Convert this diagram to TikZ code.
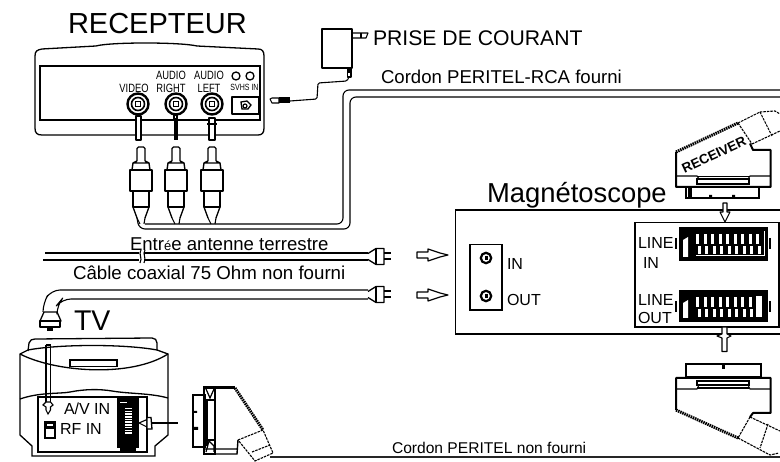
\documentclass[tikz,border=0pt]{standalone}
\usepackage{fontspec}
\setmainfont{Liberation Sans}
\newcommand{\fs}[1]{\fontsize{#1}{#1}\selectfont}
\newcommand{\rcaplug}[1]{%
  \draw[ln,line width=1.3pt,rounded corners=1.5pt] (#1-4,161) -- (#1-4,147) -- (#1+4,147) -- (#1+4,161);
  \draw[ln,line width=1.4pt] (#1-4,161) -- (#1-8,163) -- (#1-9,170) (#1+4,161) -- (#1+8,163) -- (#1+9,170) (#1-8,163) -- (#1+8,163);
  \draw[ln,line width=1.6pt,fill=white] (#1-11,170) rectangle (#1+11,191);
  \draw[ln,line width=1.4pt] (#1-8,191) -- (#1-8,207) -- (#1+8,207) -- (#1+8,191);
  \draw[ln,line width=1.3pt] (#1-8,207) -- (#1-4,218) (#1+8,207) -- (#1+4,218);
  \draw[ln] (#1-4,218) -- (#1-1,224) (#1+4,218) -- (#1+3,224);
}
\newcommand{\fplug}[1]{%
  \draw[ln,line width=1.3pt] (368,#1-3) -- (376,#1-8) -- (384,#1-8) -- (384,#1+8) -- (376,#1+8) -- (368,#1+3);
  \draw[ln,line width=1.3pt] (376,#1-8) -- (376,#1+8);
  \draw[ln,line width=2pt] (384,#1-3) -- (391,#1-3) (384,#1+3) -- (391,#1+3);
}
\newcommand{\harrow}[1]{%
  \draw[ln,line width=1.2pt,fill=white] (417,#1-3) -- (428,#1-3) -- (428,#1-6) -- (440,#1-2) -- (448,#1) -- (440,#1+2) -- (428,#1+6) -- (428,#1+3) -- (417,#1+3) -- cycle;
}
\newcommand{\scartsock}[3]{%
  \fill[black] (679,#1) rectangle (768,#2);
  \draw[black,line width=1.5pt] (676,#1+11) -- (676,#1+22) (770,#1+11) -- (770,#1+22);
  \fill[white] (683,#1+13) -- (688,#1+10) -- (688,#2-4) -- (683,#2-4) -- cycle;
  \foreach \q in {696,703.5,...,762} {
    \fill[white] (\q,#1+7) rectangle (\q+3.2,#1+17);
    \fill[white] (\q+1.5,#1+19) rectangle (\q+4.6,#1+27);
  }
  #3
}
\tikzset{
  x=1pt,y=-1pt,
  ln/.style={draw=black,line width=1.1pt,line join=round},
  thk/.style={draw=black,line width=1.6pt,line join=round},
  txt/.style={anchor=base west,inner sep=0pt,outer sep=0pt,text=black},
  narrowtxt/.style={anchor=base,inner sep=0pt,outer sep=0pt,text=black,transform shape,xscale=.78},
  hatch/.style={draw=black,line width=3pt,dash pattern=on 1.5pt off .8pt},
  bootln/.style={draw=black,line width=1.1pt,dash pattern=on 2.5pt off 1pt},
}
\begin{document}
\begin{tikzpicture}
\useasboundingbox (0,0) rectangle (780,462);
\fill[white] (0,0) rectangle (780,462);

% ---------- texts
\node[txt,font=\fs{29}] (recepteur) at (68,34) {RECEPTEUR};
\node[txt,font=\fs{21.2}] (prise) at (373,46) {PRISE DE COURANT};
\node[txt,font=\fs{18.6}] (cordonrca) at (381,84) {Cordon PERITEL-RCA fourni};
\node[txt,font=\fs{27.4}] (magneto) at (487,203) {Magnétoscope};
\node[txt,font=\fs{18.6}] (entree) at (130,251) {Entr{\fs{13}é}e antenne terrestre};
\node[txt,font=\fs{18.7}] (cable) at (73,280) {Câble coaxial 75 Ohm non fourni};
\node[txt,font=\fs{28.5}] (tv) at (74,331) {TV};
\node[txt,font=\fs{16}] (avin) at (64,415) {A/V IN};
\node[txt,font=\fs{16}] (rfin) at (60,435) {RF IN};
\node[txt,font=\fs{16}] (vin) at (507,270) {IN};
\node[txt,font=\fs{16}] (vout) at (507,306) {OUT};
\node[txt,font=\fs{16}] (linein) at (638,249) {LINE};
\node[txt,font=\fs{16}] (linein2) at (643,269) {IN};
\node[txt,font=\fs{16}] (lineout) at (638,306) {LINE};
\node[txt,font=\fs{16}] (lineout2) at (638,324) {OUT};
\node[txt,font=\fs{15.6}] (cordon) at (392,453.5) {Cordon PERITEL non fourni};
\node[narrowtxt,font=\fs{12}] (lvid) at (134,93) {VIDEO};
\node[narrowtxt,font=\fs{12}] (lright) at (171,93) {RIGHT};
\node[narrowtxt,font=\fs{12}] (laud1) at (171,80) {AUDIO};
\node[narrowtxt,font=\fs{12}] (lleft) at (209,93) {LEFT};
\node[narrowtxt,font=\fs{12}] (laud2) at (209,80) {AUDIO};
\node[narrowtxt,font=\fs{9}] (lsv) at (244.5,91) {SVHS IN};

% ---------- receiver
\draw[line width=1.3pt,line join=round] (35,56) .. controls (35,51) and (37,50) .. (42,49) -- (96,46) .. controls (110,42) and (180,42) .. (197,46) -- (258,49) .. controls (262,49) and (264,51) .. (264,56) -- (264,128) .. controls (264,133) and (262,135) .. (258,135) -- (42,135) .. controls (37,135) and (35,133) .. (35,128) -- cycle;
\draw[line width=1.3pt] (40,66) rectangle (260,120);
\foreach \cx/\cn in {138/a,176/b,212/c} {
  \draw[line width=2.4pt,fill=white] (\cx,104) circle (10.5);
  \draw[line width=1.6pt] (\cx,104) circle (6.5);
  \draw[line width=1.2pt] (\cx-2.5,101.5) rectangle (\cx+2.5,106.5);
}
\draw[thk] (232,97) rectangle (259,114);
\draw[line width=1.3pt,fill=white] (241,102) -- (247,101) -- (251,105) -- (248,109) -- (242,109) -- cycle;
\draw[line width=1.2pt] (245,106) circle (2);
\draw[line width=1.3pt] (236,76) circle (4) (250,76) circle (4);
% plugs from jacks
\draw[ln,fill=white] (136,116) rectangle (141,140);
\fill[black] (173.5,119) rectangle (177.5,140);
\draw[ln,fill=white] (174,115) rectangle (177,119);
\draw[ln,fill=white] (209,118) rectangle (215,140);
\draw[ln] (207,124) -- (217,124);
% RCA plugs
\rcaplug{141}
\rcaplug{176}
\rcaplug{212}
% RCA cable
\draw[ln,rounded corners=6pt] (137,218) -- (139,229) -- (350,229) -- (350,97) -- (780,97);
\draw[ln,rounded corners=6pt] (145,224) -- (343,224) -- (343,90) -- (780,90);
% power adapter
\draw[ln,line width=1.3pt] (322,29) rectangle (352,68);
\draw[ln] (352,33) -- (368,33) -- (366,38) -- (352,38);
\draw[ln] (361,33) -- (361,38);
\draw[ln,fill=black] (348,68) rectangle (351,72);
\draw[ln] (347.5,72) rectangle (351,77);
\draw[ln,rounded corners=1.5pt] (349,77) -- (347,81) -- (318,83) -- (317,99) -- (290,101);
\draw[ln,fill=white] (270,99) -- (272,98) -- (279,98) -- (279,103) -- (272,103) -- cycle;
\fill[black] (279,97.5) rectangle (290,103.5);

% ---------- VCR
\draw[line width=1.3pt] (780,210) -- (455.5,210) -- (455.5,334) -- (780,334);
\draw[line width=1.3pt] (780,222.5) -- (635,222.5) -- (635,327) -- (779,327) -- (779,222.5);
\draw[line width=1.4pt] (470,244.5) rectangle (502,310);
\foreach \yy in {258,296} {
  \draw[line width=2.2pt] (486,\yy) circle (5.2);
  \fill[black] (485,\yy-2) rectangle (488,\yy+2);
}
\harrow{255}
\harrow{295}
\scartsock{227}{261}{\draw[white,line width=1pt] (696,256) -- (764,256) -- (764,231);}
\scartsock{290}{322}{\fill[white] (756,296) rectangle (762,317);}
\draw[ln,fill=white] (723,203) -- (727,203) -- (727,212) -- (730,212) -- (725,222) -- (720,212) -- (723,212) -- cycle;
\draw[ln,fill=white] (722,327) -- (722,334) -- (717,336) -- (722,338) -- (722,351.5) -- (727,351.5) -- (727,338) -- (731,336) -- (727,334) -- (727,327) -- cycle;

% ---------- top SCART
\draw[line width=2pt,line join=round] (676,152) -- (676,187) -- (770.5,187) -- (770.5,150) -- (753,150) -- (750,143.5);
\draw[line width=1.1pt] (676,176) -- (697,176) -- (699,179) (770,176) -- (750,176) -- (748,179);
\draw[line width=1.1pt] (697,179) rectangle (749,184);
\draw[line width=1.4pt] (697,176.5) -- (749,176.5);
\draw[line width=1.4pt,fill=white] (686,187) rectangle (759,198);
\fill[black] (688,187) rectangle (692,198);
\fill[black] (709,195) rectangle (712,198) (732,195) rectangle (735,198);
\draw[hatch] (676,152) -- (738,123);
\draw[bootln] (738,123) -- (760,112) -- (775,111) -- (780,114) (752,144) -- (780,131) (738,123) -- (752,144) (760,112) -- (772,136);
\node[anchor=center,inner sep=0pt,font=\fs{13.5}\bfseries,rotate=25,text=black] (recv) at (714,155) {RECEIVER};

% ---------- bottom SCART
\draw[line width=1.3pt,fill=white] (686,364) rectangle (761,377);
\fill[black] (722,365) rectangle (725,369);
\draw[line width=2pt,line join=round] (676,410) -- (676,378) -- (770.5,378) -- (770.5,413) -- (753,413) -- (750,417);
\draw[line width=1.1pt] (676,389) -- (697,389) -- (699,385) (770,389) -- (750,389) -- (748,385);
\draw[line width=1.1pt] (697,381) rectangle (749,385);
\draw[line width=1.4pt] (697,388) -- (749,388);
\draw[hatch] (676,410) -- (738,438);
\draw[bootln] (738,438) -- (770,455) -- (779,453) (750,417) -- (780,431) (750,417) -- (738,438) (768,424) -- (760,448);

% ---------- peritel cable and left SCART
\draw[draw=black!85,line width=2pt] (270,457.5) -- (780,457.5);
\draw[line width=1.6pt] (193,395) rectangle (205,447);
\fill[black] (204,399) rectangle (208,446);
\fill[black] (193,411) rectangle (197,413) (193,427) rectangle (198,430);
\draw[line width=1.2pt] (204,387) rectangle (215,454);
\fill[black] (204,386) rectangle (235,389);
\draw[line width=1.2pt] (206,389) -- (210,398) -- (214,389) (206,452) -- (209,441) -- (214,446) -- (214,452);
\draw[line width=1.4pt] (204,449) -- (237,449) (204,454) -- (237,454) -- (238,440);
\draw[line width=1.2pt] (215,400) -- (208,400) (215,440) -- (208,440);
\draw[hatch] (235,388) -- (263,430);
\draw[bootln] (238,440) -- (263,430) -- (273,453) -- (255,461) -- (238,440) (252,452) -- (270,445);

% ---------- antenna cables
\draw[ln] (45,253) -- (139,253) (144,253) -- (368,253);
\draw[ln] (43,260) -- (139,260) (144,260) -- (368,260);
\draw[ln] (141,250) .. controls (138,254) and (143,258) .. (140,263);
\draw[ln] (145,250) .. controls (142,254) and (147,258) .. (144,263);
\fplug{256.5}
\draw[ln,rounded corners=9pt] (368,290) -- (51,290) -- (43,303) -- (43,312);
\draw[ln,rounded corners=9pt] (368,299) -- (62,299) -- (57,305) -- (57,312);
\fplug{294.5}
\draw[ln,line width=1.3pt] (44,312) -- (57,312) -- (61,321) -- (40,321) -- cycle;
\draw[thk] (40,321) rectangle (60,327);
\fill[black] (47,327) rectangle (53,331);

% ---------- TV
\draw[line width=1.3pt,line join=round] (28,351) -- (29,343) .. controls (30,340) and (32,339) .. (35,339) -- (152,338) .. controls (155,338) and (157,340) .. (157,343) -- (157,350);
\draw[line width=1.3pt] (28,350) .. controls (60,344) and (125,344) .. (157,350);
\draw[line width=1.3pt] (28,350) -- (20,354) -- (20,435) -- (32,446) -- (32,456) -- (155,456) -- (155,446) -- (168,435) -- (168,354) -- (157,350);
\draw[line width=1.3pt] (20,354) .. controls (55,372) and (130,378) .. (168,354);
\draw[line width=1.4pt] (70,360) rectangle (117,366.5);
\draw[line width=1.3pt] (20,399) .. controls (40,392) and (60,394) .. (70,392) .. controls (85,389) and (100,389) .. (112,391) .. controls (130,394) and (150,393) .. (168,398);
\draw[line width=1.3pt] (38,397) rectangle (147,452);
\fill[black] (117,397) rectangle (139,448);
\fill[black] (120,448) rectangle (136,452);
\fill[white] (120,402) rectangle (127,403.5);
\foreach \yq in {408,410.7,...,433} {\fill[white] (125,\yq) rectangle (132,\yq+1.5);}
\draw[line width=1.1pt] (46,345) -- (46,402) (50.5,345) -- (50.5,402);
\draw[line width=1.5pt] (46,345) -- (50.5,345);
\draw[line width=1.1pt,fill=white] (46,402) -- (43,405) -- (46,407) -- (46,410) -- (48,414) -- (50.5,410) -- (50.5,407) -- (53,405) -- (50.5,402) -- cycle;
\draw[line width=1.2pt,fill=white] (45,422) rectangle (55,438);
\fill[black] (45,422) rectangle (55,429);
\fill[white] (47,424) rectangle (53,426);
\draw[line width=1.1pt,fill=white] (139,423) -- (147,419.5) -- (147,427) -- cycle;
\draw[line width=1.3pt,fill=white] (147,417.5) -- (151,417.5) -- (152,429) -- (147,429) -- cycle;
\draw[line width=2.2pt] (152,423) -- (178,423);
\end{tikzpicture}
\end{document}
